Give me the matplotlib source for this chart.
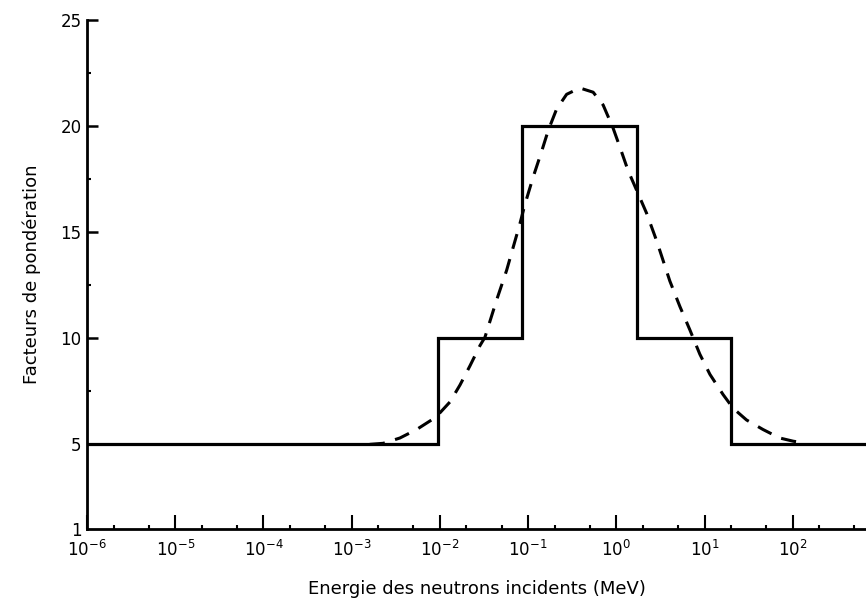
import matplotlib
matplotlib.use("Agg")
import matplotlib.pyplot as plt
from matplotlib.ticker import LogLocator, FixedLocator

# step function (solid)
step_energy = [1e-6, 0.0095, 0.0095, 0.085, 0.085, 1.7, 1.7, 20, 20, 676]
step_factor = [5, 5, 10, 10, 20, 20, 10, 10, 5, 5]

# smooth curve (dashed)
curve_energy = [0.0016, 0.00228, 0.00352, 0.00544, 0.00839, 0.00957, 0.013,
                0.0169, 0.0219, 0.0284, 0.0324, 0.0369, 0.0439, 0.057,
                0.0678, 0.0807, 0.0918, 0.114, 0.142, 0.169, 0.21, 0.273,
                0.385, 0.546, 0.708, 0.92, 1.1, 1.36, 1.69, 2.2, 2.86,
                4.04, 5.25, 6.81, 8.84, 11.5, 16.2, 21.1, 29.9, 46.0, 71.1,
                101, 140]
curve_factor = [5.0, 5.05, 5.3, 5.7, 6.2, 6.4, 7.0,
                7.8, 8.7, 9.65, 10.05, 10.8, 11.8, 13.2,
                14.3, 15.4, 16.3, 17.6, 18.8, 19.8, 20.8, 21.5,
                21.8, 21.6, 21.0, 19.9, 19.0, 17.9, 17.0, 15.9, 14.6,
                12.7, 11.5, 10.4, 9.25, 8.3, 7.35, 6.7, 6.15, 5.7, 5.3,
                5.15, 5.05]

ytick_vals = [1, 5, 10, 15, 20, 25]

fig = plt.figure(figsize=(8.66, 6.09), dpi=100)
ax = fig.add_axes([0.1005, 0.131, 0.8995, 0.836])

ax.plot(step_energy, step_factor, color='black', linewidth=2.3,
        solid_joinstyle='miter')
ax.plot(curve_energy, curve_factor, color='black', linewidth=2.2,
        linestyle=(0, (5, 3.5)))

ax.set_xscale('log')
ax.set_xlim(1e-6, 676)
ax.set_ylim(1, 25)

ax.spines['top'].set_visible(False)
ax.spines['right'].set_visible(False)
ax.spines['left'].set_linewidth(2)
ax.spines['bottom'].set_linewidth(2)

ax.xaxis.set_major_locator(LogLocator(base=10, numticks=20))
ax.xaxis.set_minor_locator(LogLocator(base=10, subs=(2, 5), numticks=20))
ax.yaxis.set_major_locator(FixedLocator(ytick_vals))
ax.yaxis.set_minor_locator(FixedLocator([7.5, 12.5, 17.5, 22.5]))

ax.tick_params(axis='x', which='major', direction='in', length=10, width=1.5,
               labelsize=12, pad=8)
ax.tick_params(axis='x', which='minor', direction='in', length=3, width=1.5)
ax.tick_params(axis='y', which='major', direction='in', length=8, width=1.8,
               labelsize=12, pad=4)
ax.tick_params(axis='y', which='minor', direction='in', length=3, width=1.5)
ax.yaxis.get_major_ticks()[0].tick1line.set_visible(False)

ax.set_xlabel('Energie des neutrons incidents (MeV)', fontsize=13, labelpad=14)
ax.set_ylabel('Facteurs de pondération', fontsize=13, labelpad=14)

fig.savefig('out.png', dpi=100)
